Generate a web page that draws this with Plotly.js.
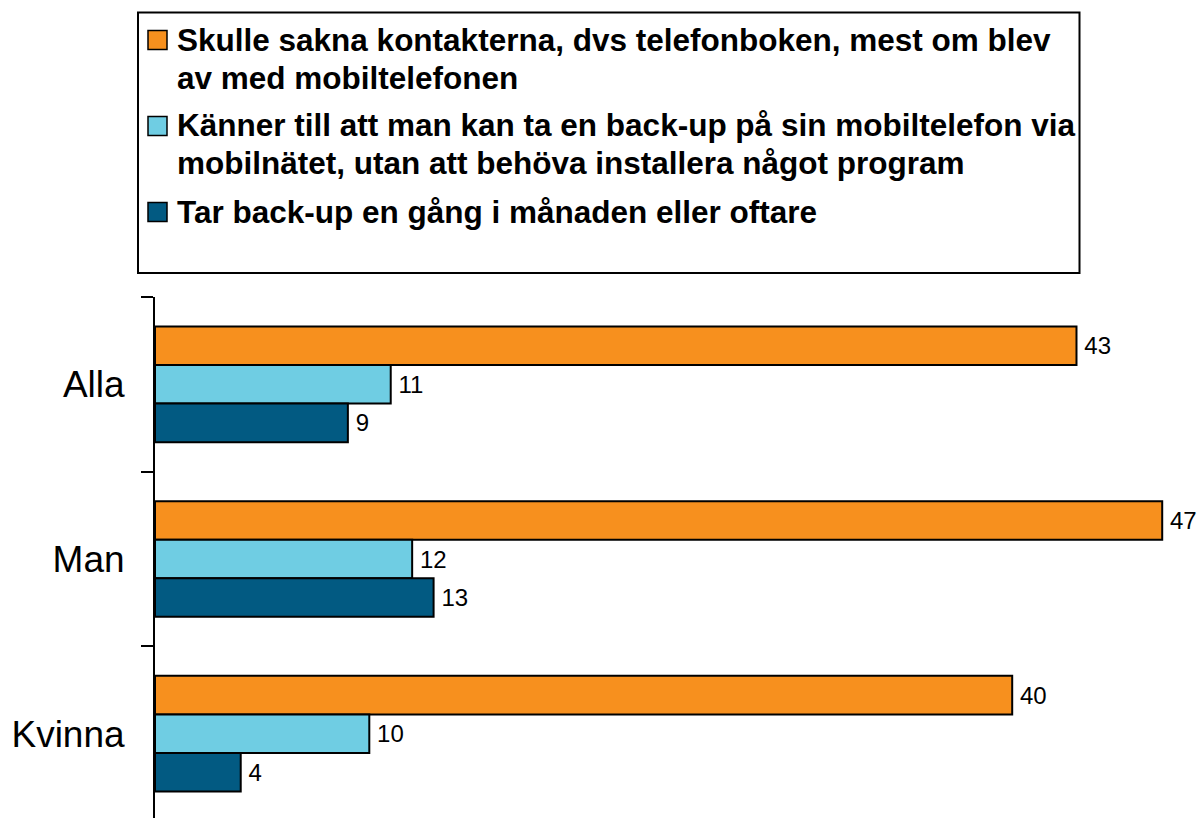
<!DOCTYPE html>
<html>
<head>
<meta charset="utf-8">
<script src="https://cdn.plot.ly/plotly-3.0.1.min.js"></script>
<style>html,body{margin:0;padding:0;overflow:hidden;background:#fff}</style>
</head>
<body>
<div id="chart" style="width:1201px;height:821px"></div>
<script>
// ---- data ----
const categories = ['Alla', 'Man', 'Kvinna'];
const seriesNames = [
  'Skulle sakna kontakterna, dvs telefonboken, mest om blev<br>av med mobiltelefonen',
  'Känner till att man kan ta en back-up på sin mobiltelefon via<br>mobilnätet, utan att behöva installera något program',
  'Tar back-up en gång i månaden eller oftare'
];
const saknaKontakter = [43, 47, 40];
const kannerTillBackup = [11, 12, 10];
const tarBackupManad = [9, 13, 4];
const seriesValues = [saknaKontakter, kannerTillBackup, tarBackupManad];
const seriesColors = ['#F7901E', '#6FCDE3', '#025A82'];

// ---- layout geometry ----
const W = 1201, H = 821, ML = 155, MR = 0, MT = 297, MB = 0;
const PW = W - ML - MR, PH = H - MT - MB;
const fx = px => (px - ML) / PW;
const fy = py => (MT + PH - py) / PH;
const FONT = 'Liberation Sans, Arial, Helvetica, sans-serif';

const traces = seriesValues.map((vals, i) => ({
  type: 'bar',
  orientation: 'h',
  y: categories,
  x: vals,
  name: seriesNames[i].replace('<br>', ' '),
  marker: { color: seriesColors[i], line: { color: '#000', width: 2 } },
  texttemplate: '\u2009%{x}',
  textposition: 'outside',
  textfont: { size: 24, color: '#000', family: FONT },
  constraintext: 'none',
  cliponaxis: false,
  hoverinfo: 'skip'
}));

// manual legend (box, swatches, labels), one annotation per text line
const lineY = [[40, 77.5], [125, 162.5], [212]];
const swatchY = [40, 126, 212];
const shapes = [{
  type: 'rect', xref: 'paper', yref: 'paper',
  x0: fx(138), x1: fx(1079.5), y0: fy(12.5), y1: fy(273),
  line: { color: '#000', width: 2 }, fillcolor: 'rgba(0,0,0,0)', layer: 'above'
}];
const annotations = [];
seriesNames.forEach((n, i) => {
  shapes.push({
    type: 'rect', xref: 'paper', yref: 'paper',
    x0: fx(148), x1: fx(167), y0: fy(swatchY[i] + 9.5), y1: fy(swatchY[i] - 9.5),
    line: { color: '#000', width: 1.5 }, fillcolor: seriesColors[i], layer: 'above'
  });
  n.split('<br>').forEach((line, j) => {
    annotations.push({
      xref: 'paper', yref: 'paper', x: fx(175), y: fy(lineY[i][j]),
      xanchor: 'left', yanchor: 'middle', align: 'left', showarrow: false,
      text: '<b>' + line + '</b>',
      font: { size: 31.5, color: '#000', family: FONT }
    });
  });
});

const layout = {
  width: W, height: H,
  margin: { l: ML, r: MR, t: MT, b: MB, pad: 0 },
  paper_bgcolor: '#fff', plot_bgcolor: '#fff',
  font: { family: FONT, color: '#000' },
  barmode: 'group',
  bargap: 0.338,
  bargroupgap: 0,
  showlegend: false,
  xaxis: {
    range: [0, PW / 21.43],
    visible: false, showgrid: false, zeroline: false, fixedrange: true
  },
  yaxis: {
    type: 'category',
    autorange: 'reversed',
    showline: true, linecolor: '#000', linewidth: 2,
    ticks: 'outside', tickson: 'boundaries', ticklen: 12, tickwidth: 2, tickcolor: '#000',
    ticklabelstandoff: 21,
    tickfont: { size: 37, color: '#000', family: FONT },
    showgrid: false, zeroline: false, fixedrange: true
  },
  shapes: shapes,
  annotations: annotations
};

Plotly.newPlot('chart', traces, layout, { displayModeBar: false, staticPlot: true });
</script>
</body>
</html>
